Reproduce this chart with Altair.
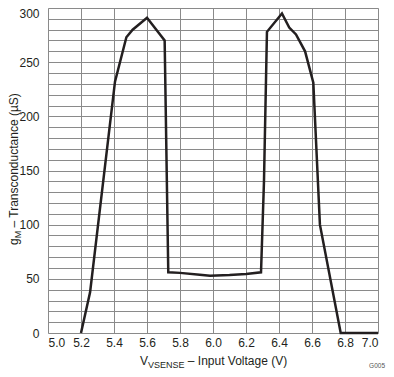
import altair as alt
import pandas as pd

# Data
vsense = [5.2, 5.255, 5.406, 5.475, 5.513, 5.6, 5.707, 5.729, 5.8, 5.92, 5.982,
          6.1, 6.2, 6.291, 6.309, 6.327, 6.418, 6.462, 6.503, 6.558, 6.608,
          6.648, 6.774, 7.0]
gm = [0, 37.5, 232, 273, 280, 291, 270, 56, 55.5, 53.7, 52.8,
      53.5, 54.5, 56, 140, 278, 295, 282, 275.6, 260, 231,
      100, 0, 0]

x_ticks = [5.0, 5.2, 5.4, 5.6, 5.8, 6.0, 6.2, 6.4, 6.6, 6.8, 7.0]
y_ticks = list(range(0, 301, 10))

FONT = "Liberation Sans"
TXT = "#231f20"
GRID = "#8a8a8a"

df = pd.DataFrame({"v": vsense, "g": gm, "i": list(range(len(vsense)))})

line = alt.Chart(df).mark_line(color=TXT, strokeWidth=2.5).encode(
    x=alt.X("v:Q",
            scale=alt.Scale(domain=[5.0, 7.0], nice=False, zero=False),
            axis=alt.Axis(values=x_ticks, format=".1f", title=None, grid=True,
                          gridColor=GRID, gridWidth=1, gridOpacity=1,
                          domain=False, ticks=False, labelFont=FONT,
                          labelFontSize=12, labelColor=TXT, labelPadding=4)),
    y=alt.Y("g:Q",
            scale=alt.Scale(domain=[0, 300], nice=False),
            axis=alt.Axis(values=y_ticks, title=None, grid=True,
                          gridColor=GRID, gridWidth=1, gridOpacity=1,
                          domain=False, ticks=False, labelFont=FONT,
                          labelFontSize=12, labelColor=TXT, labelPadding=9,
                          labelBaseline={"condition": {"test": "datum.value == 300",
                                                       "value": "top"},
                                         "value": "middle"},
                          labelExpr="datum.value % 50 == 0 ? datum.label : ''")),
    order="i:Q",
)

one = pd.DataFrame({"a": [0]})


def txt(text, x, y, size=12, angle=0, align="left", color=TXT):
    return alt.Chart(one).mark_text(
        text=text, font=FONT, fontSize=size, color=color, align=align,
        baseline="alphabetic", angle=angle,
    ).encode(x=alt.value(x), y=alt.value(y))


# x-axis title with subscript
xt1 = txt("V", 92, 356.5)
xt2 = txt("VSENSE", 100, 359.5, size=9)
xt3 = txt("– Input Voltage (V)", 139.8, 356.5)

# y-axis title with subscript (rotated)
yt1 = txt("g", -30, 237, angle=270)
yt2 = txt("M", -27, 230.3, size=9, angle=270)
yt3 = txt("– Transconductance (µS)", -30, 219.5, angle=270)

code = txt("G005", 337, 360, size=6.5, align="right", color="#555555")

chart = alt.layer(line, xt1, xt2, xt3, yt1, yt2, yt3, code).properties(
    width=330, height=325,
    autosize=alt.AutoSizeParams(type="none"),
    padding={"left": 40, "top": 0, "right": 8, "bottom": 36},
).configure_view(stroke="black", strokeWidth=2).configure(background="white")

chart.save("out.html", embed_options={"renderer": "svg", "actions": False})
